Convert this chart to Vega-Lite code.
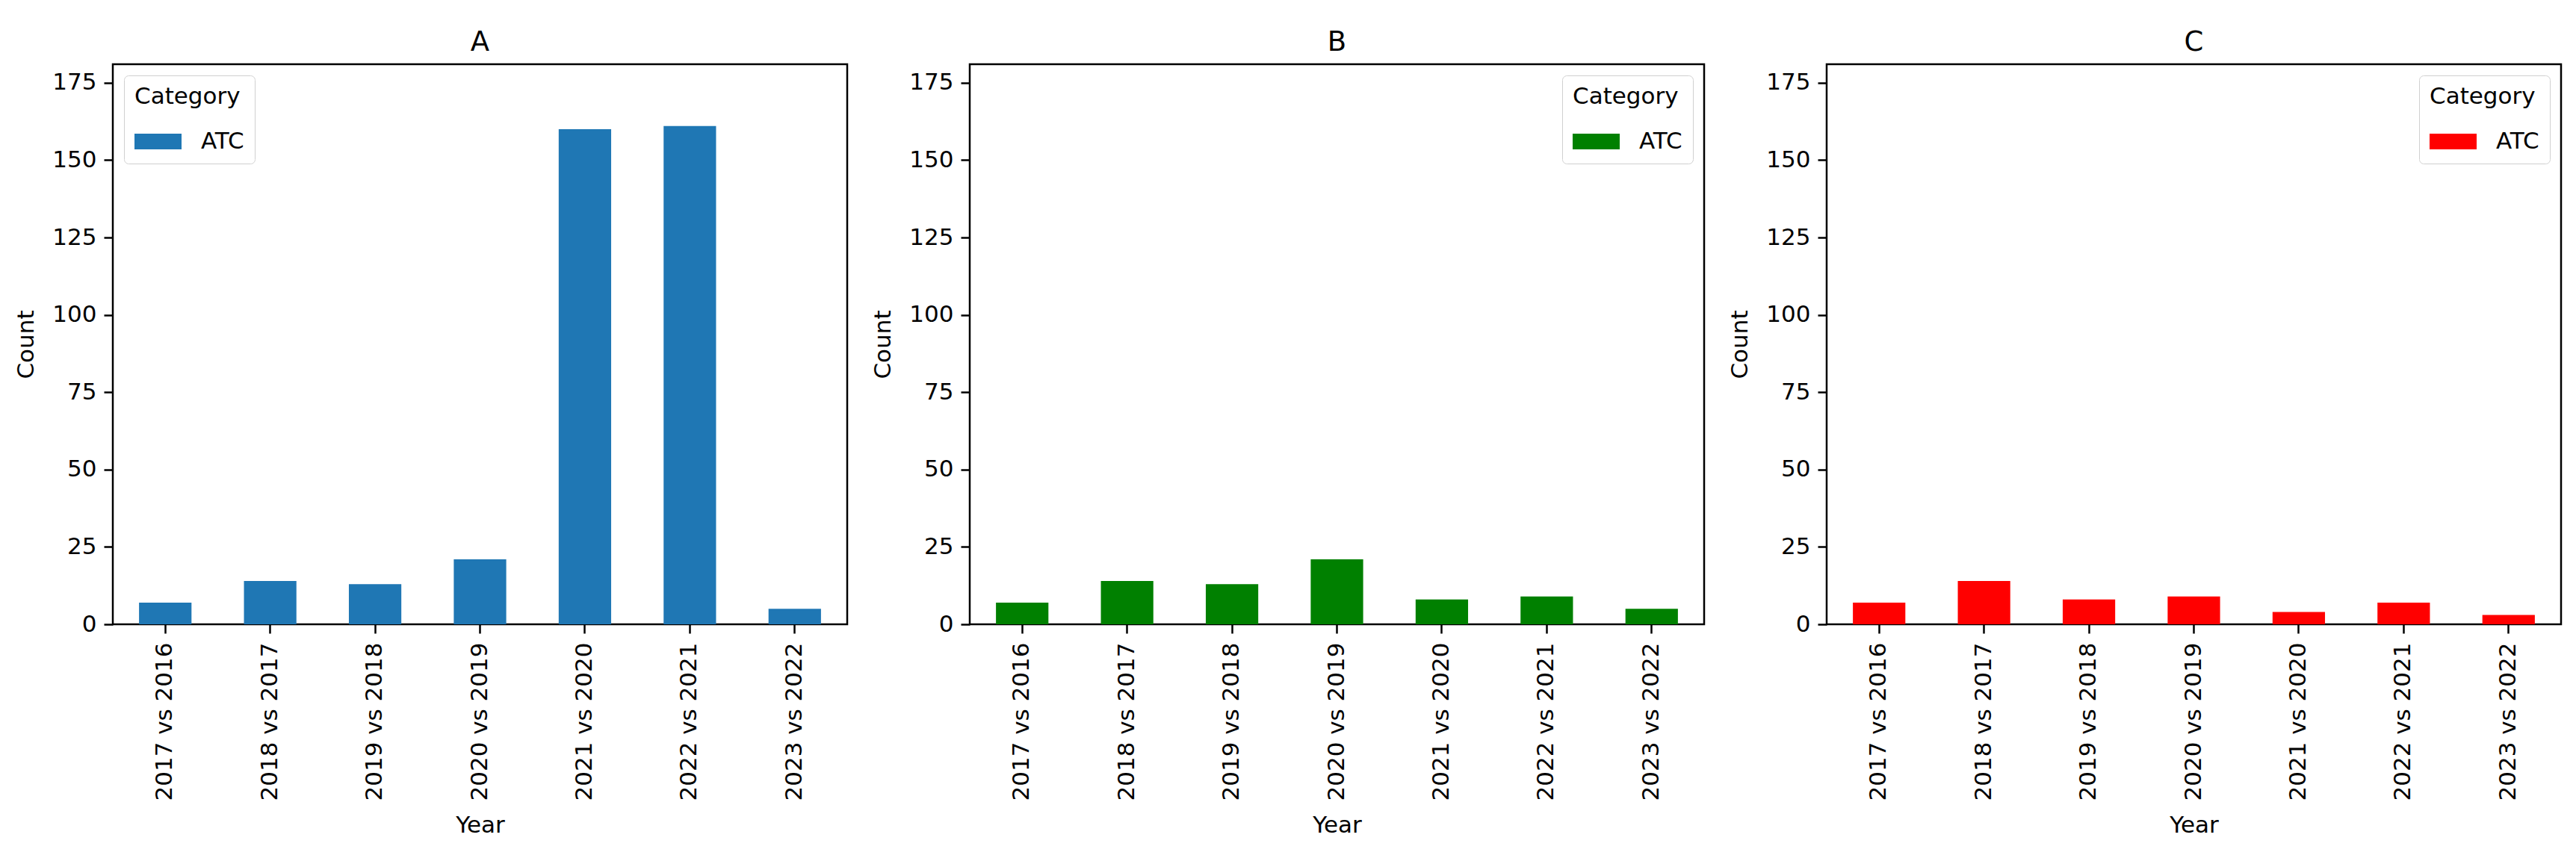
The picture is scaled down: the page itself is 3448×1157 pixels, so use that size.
{
  "$schema": "https://vega.github.io/schema/vega-lite/v6.json",
  "padding": {"left": 18, "top": 36, "right": 10, "bottom": 10},
  "bounds": "flush",
  "spacing": 164,
  "background": "white",
  "data": {
    "values": [
      {"Panel": "A", "Year": "2017 vs 2016", "Category": "ATC", "Count": 7},
      {"Panel": "A", "Year": "2018 vs 2017", "Category": "ATC", "Count": 14},
      {"Panel": "A", "Year": "2019 vs 2018", "Category": "ATC", "Count": 13},
      {"Panel": "A", "Year": "2020 vs 2019", "Category": "ATC", "Count": 21},
      {"Panel": "A", "Year": "2021 vs 2020", "Category": "ATC", "Count": 160},
      {"Panel": "A", "Year": "2022 vs 2021", "Category": "ATC", "Count": 161},
      {"Panel": "A", "Year": "2023 vs 2022", "Category": "ATC", "Count": 5},
      {"Panel": "B", "Year": "2017 vs 2016", "Category": "ATC", "Count": 7},
      {"Panel": "B", "Year": "2018 vs 2017", "Category": "ATC", "Count": 14},
      {"Panel": "B", "Year": "2019 vs 2018", "Category": "ATC", "Count": 13},
      {"Panel": "B", "Year": "2020 vs 2019", "Category": "ATC", "Count": 21},
      {"Panel": "B", "Year": "2021 vs 2020", "Category": "ATC", "Count": 8},
      {"Panel": "B", "Year": "2022 vs 2021", "Category": "ATC", "Count": 9},
      {"Panel": "B", "Year": "2023 vs 2022", "Category": "ATC", "Count": 5},
      {"Panel": "C", "Year": "2017 vs 2016", "Category": "ATC", "Count": 7},
      {"Panel": "C", "Year": "2018 vs 2017", "Category": "ATC", "Count": 14},
      {"Panel": "C", "Year": "2019 vs 2018", "Category": "ATC", "Count": 8},
      {"Panel": "C", "Year": "2020 vs 2019", "Category": "ATC", "Count": 9},
      {"Panel": "C", "Year": "2021 vs 2020", "Category": "ATC", "Count": 4},
      {"Panel": "C", "Year": "2022 vs 2021", "Category": "ATC", "Count": 7},
      {"Panel": "C", "Year": "2023 vs 2022", "Category": "ATC", "Count": 3}
    ]
  },
  "config": {
    "font": "DejaVu Sans",
    "view": {"stroke": "black", "strokeWidth": 2.5},
    "axis": {
      "grid": false,
      "domain": false,
      "tickSize": 12,
      "tickWidth": 2.5,
      "tickColor": "black",
      "labelFont": "DejaVu Sans",
      "labelFontSize": 31,
      "labelColor": "black",
      "labelLimit": 400,
      "titleFont": "DejaVu Sans",
      "titleFontSize": 31,
      "titleFontWeight": "normal",
      "titleColor": "black"
    },
    "title": {"font": "DejaVu Sans", "fontSize": 37, "fontWeight": "normal", "offset": 10, "color": "black"},
    "legend": {
      "offset": 15,
      "padding": 14,
      "strokeColor": "#d0d0d0",
      "fillColor": "white",
      "cornerRadius": 6,
      "titleFont": "DejaVu Sans",
      "titleFontSize": 31,
      "titleFontWeight": "normal",
      "titleColor": "black",
      "titlePadding": 12,
      "titleLimit": 400,
      "labelFont": "DejaVu Sans",
      "labelFontSize": 31,
      "labelColor": "black",
      "labelLimit": 400,
      "labelOffset": 26,
      "symbolType": "M-1,-0.333H1V0.333H-1Z",
      "symbolSize": 3969,
      "symbolStrokeWidth": 0,
      "symbolOpacity": 1
    }
  },
  "resolve": {"scale": {"color": "independent"}},
  "hconcat": [
    {
      "title": "A",
      "width": 983,
      "height": 750,
      "transform": [{"filter": "datum.Panel === 'A'"}],
      "mark": {"type": "bar", "opacity": 1},
      "encoding": {
        "x": {"field": "Year", "type": "nominal", "sort": null, "title": "Year",
              "scale": {"paddingInner": 0.5, "paddingOuter": 0.25},
              "axis": {"labelAngle": -90, "labelPadding": 12, "titleY": 254, "titleBaseline": "top"}},
        "y": {"field": "Count", "type": "quantitative", "title": "Count",
              "scale": {"domain": [0, 181], "nice": false, "zero": true},
              "axis": {"values": [0, 25, 50, 75, 100, 125, 150, 175], "labelPadding": 10, "titlePadding": 18}},
        "color": {"field": "Category", "type": "nominal", "title": "Category",
                  "scale": {"range": ["#1f77b4"]},
                  "legend": {"orient": "top-left"}}
      }
    },
    {
      "title": "B",
      "width": 983,
      "height": 750,
      "transform": [{"filter": "datum.Panel === 'B'"}],
      "mark": {"type": "bar", "opacity": 1},
      "encoding": {
        "x": {"field": "Year", "type": "nominal", "sort": null, "title": "Year",
              "scale": {"paddingInner": 0.5, "paddingOuter": 0.25},
              "axis": {"labelAngle": -90, "labelPadding": 12, "titleY": 254, "titleBaseline": "top"}},
        "y": {"field": "Count", "type": "quantitative", "title": "Count",
              "scale": {"domain": [0, 181], "nice": false, "zero": true},
              "axis": {"values": [0, 25, 50, 75, 100, 125, 150, 175], "labelPadding": 10, "titlePadding": 18}},
        "color": {"field": "Category", "type": "nominal", "title": "Category",
                  "scale": {"range": ["#008000"]},
                  "legend": {"orient": "top-right"}}
      }
    },
    {
      "title": "C",
      "width": 983,
      "height": 750,
      "transform": [{"filter": "datum.Panel === 'C'"}],
      "mark": {"type": "bar", "opacity": 1},
      "encoding": {
        "x": {"field": "Year", "type": "nominal", "sort": null, "title": "Year",
              "scale": {"paddingInner": 0.5, "paddingOuter": 0.25},
              "axis": {"labelAngle": -90, "labelPadding": 12, "titleY": 254, "titleBaseline": "top"}},
        "y": {"field": "Count", "type": "quantitative", "title": "Count",
              "scale": {"domain": [0, 181], "nice": false, "zero": true},
              "axis": {"values": [0, 25, 50, 75, 100, 125, 150, 175], "labelPadding": 10, "titlePadding": 18}},
        "color": {"field": "Category", "type": "nominal", "title": "Category",
                  "scale": {"range": ["#ff0000"]},
                  "legend": {"orient": "top-right"}}
      }
    }
  ]
}
